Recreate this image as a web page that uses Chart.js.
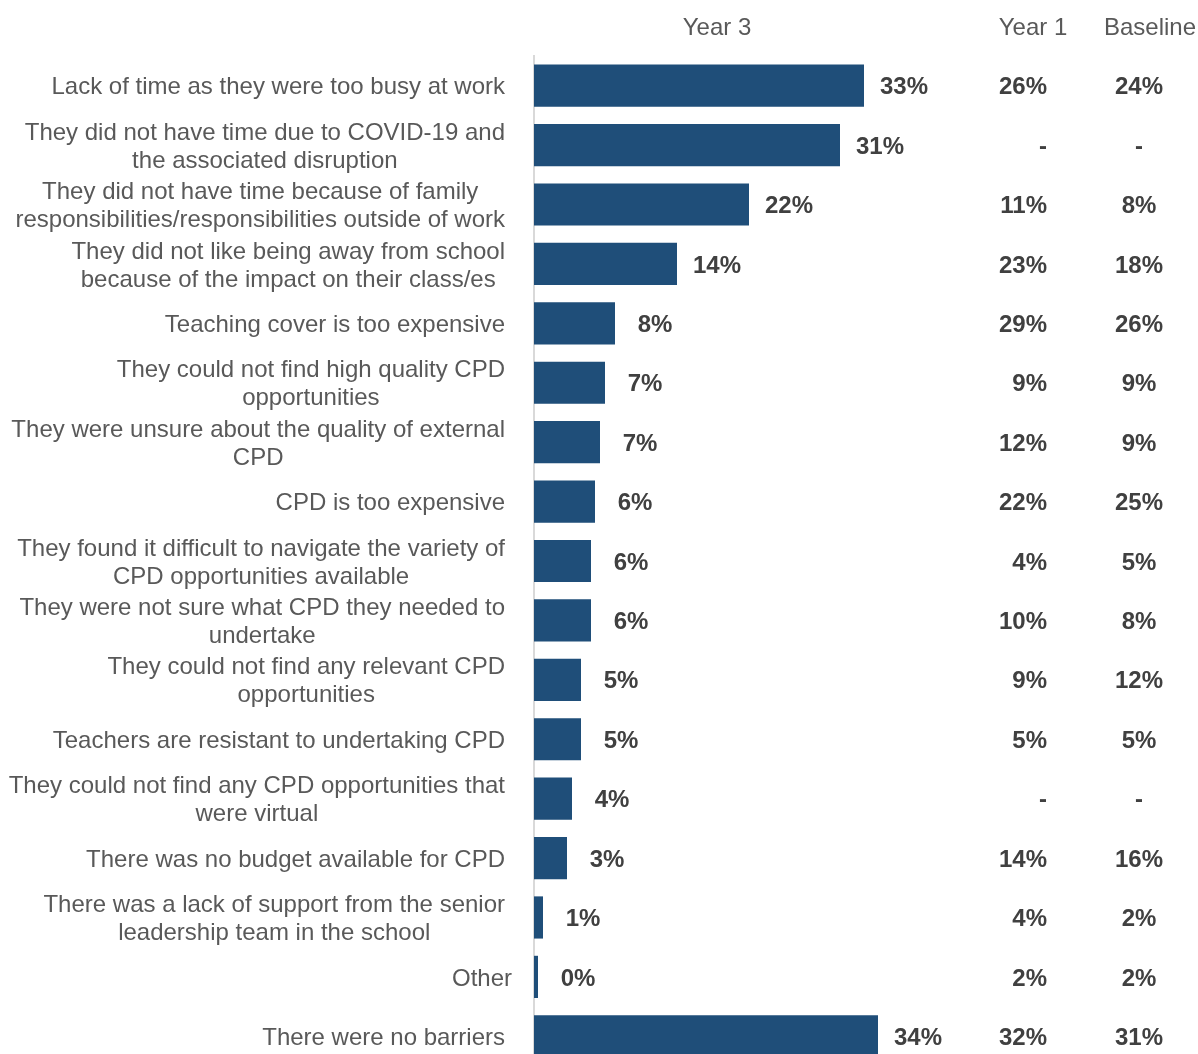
<!DOCTYPE html>
<html>
<head>
<meta charset="utf-8">
<script src="https://cdn.jsdelivr.net/npm/chart.js@4"></script>
<style>
  html, body { margin: 0; padding: 0; background: #fff; overflow: hidden; }
  #wrap { width: 1198px; height: 1054px; overflow: hidden; }
</style>
</head>
<body>
<div id="wrap">
  <canvas id="myChart" width="1198" height="1066"></canvas>
</div>
<script>
// categories, one array of lines per bar
const categories = [
  ['Lack of time as they were too busy at work'],
  ['They did not have time due to COVID-19 and', 'the associated disruption'],
  ['They did not have time because of family', 'responsibilities/responsibilities outside of work'],
  ['They did not like being away from school', 'because of the impact on their class/es'],
  ['Teaching cover is too expensive'],
  ['They could not find high quality CPD', 'opportunities'],
  ['They were unsure about the quality of external', 'CPD'],
  ['CPD is too expensive'],
  ['They found it difficult to navigate the variety of', 'CPD opportunities available'],
  ['They were not sure what CPD they needed to', 'undertake'],
  ['They could not find any relevant CPD', 'opportunities'],
  ['Teachers are resistant to undertaking CPD'],
  ['They could not find any CPD opportunities that', 'were virtual'],
  ['There was no budget available for CPD'],
  ['There was a lack of support from the senior', 'leadership team in the school'],
  ['Other'],
  ['There were no barriers'],
];

// year 3 values and the printed labels
const year3 = [33, 30.6, 21.5, 14.3, 8.1, 7.1, 6.6, 6.1, 5.7, 5.7, 4.7, 4.7, 3.8, 3.3, 0.9, 0.4, 34.4];
const year3Labels = ['33%', '31%', '22%', '14%', '8%', '7%', '7%', '6%', '6%', '6%', '5%', '5%', '4%', '3%', '1%', '0%', '34%'];
const year1Labels = ['26%', '-', '11%', '23%', '29%', '9%', '12%', '22%', '4%', '10%', '9%', '5%', '-', '14%', '4%', '2%', '32%'];
const baselineLabels = ['24%', '-', '8%', '18%', '26%', '9%', '9%', '25%', '5%', '8%', '12%', '5%', '-', '16%', '2%', '2%', '31%'];

const FONT = '"Liberation Sans", Arial, sans-serif';
const LABEL_COLOR = '#595959';
const VALUE_COLOR = '#404040';

const tablePlugin = {
  id: 'table',
  afterDatasetsDraw(chart) {
    const ctx = chart.ctx;
    const yScale = chart.scales.y;
    const xScale = chart.scales.x;
    ctx.save();
    ctx.textBaseline = 'middle';

    // column headers
    ctx.font = '24px ' + FONT;
    ctx.fillStyle = LABEL_COLOR;
    ctx.textAlign = 'center';
    ctx.fillText('Year 3', 717, 28);
    ctx.fillText('Year 1', 1033, 28);
    ctx.fillText('Baseline', 1150, 28);

    categories.forEach((lines, i) => {
      const y = yScale.getPixelForValue(i) + 2;

      // category label: block right-aligned, lines centred
      ctx.font = '24px ' + FONT;
      ctx.fillStyle = LABEL_COLOR;
      const widths = lines.map((l) => ctx.measureText(l).width);
      const maxW = Math.max(...widths);
      // the single short "Other" label sits a little further right in the original
      const right = chart.chartArea.left - (lines[0] === 'Other' ? 22 : 29);
      const lh = 28;
      const y0 = y - ((lines.length - 1) * lh) / 2;
      ctx.textAlign = 'center';
      lines.forEach((l, j) => {
        ctx.fillText(l, right - maxW / 2, y0 + j * lh);
      });

      // values
      ctx.font = 'bold 24px ' + FONT;
      ctx.fillStyle = VALUE_COLOR;
      ctx.textAlign = 'center';
      ctx.fillText(year3Labels[i], xScale.getPixelForValue(year3[i]) + 40, y);
      ctx.textAlign = 'right';
      ctx.fillText(year1Labels[i], 1047, y);
      ctx.textAlign = 'center';
      ctx.fillText(baselineLabels[i], 1139, y);
    });
    ctx.restore();
  },
};

const ctx = document.getElementById('myChart').getContext('2d');
const myChart = new Chart(ctx, {
  type: 'bar',
  data: {
    labels: categories,
    datasets: [
      {
        label: 'Year 3',
        data: year3,
        backgroundColor: '#1f4e79',
        barPercentage: 0.71,
        categoryPercentage: 1,
      },
    ],
  },
  options: {
    indexAxis: 'y',
    responsive: false,
    animation: false,
    layout: {
      padding: { left: 534, top: 56, right: 0, bottom: 0 },
    },
    plugins: {
      legend: { display: false },
      tooltip: { enabled: false },
    },
    scales: {
      x: {
        display: false,
        min: 0,
        max: 66.4,
      },
      y: {
        display: true,
        ticks: { display: false },
        grid: { display: false, drawTicks: false },
        border: { display: true, color: '#d9d9d9', width: 2 },
      },
    },
  },
  plugins: [tablePlugin],
});
</script>
</body>
</html>
